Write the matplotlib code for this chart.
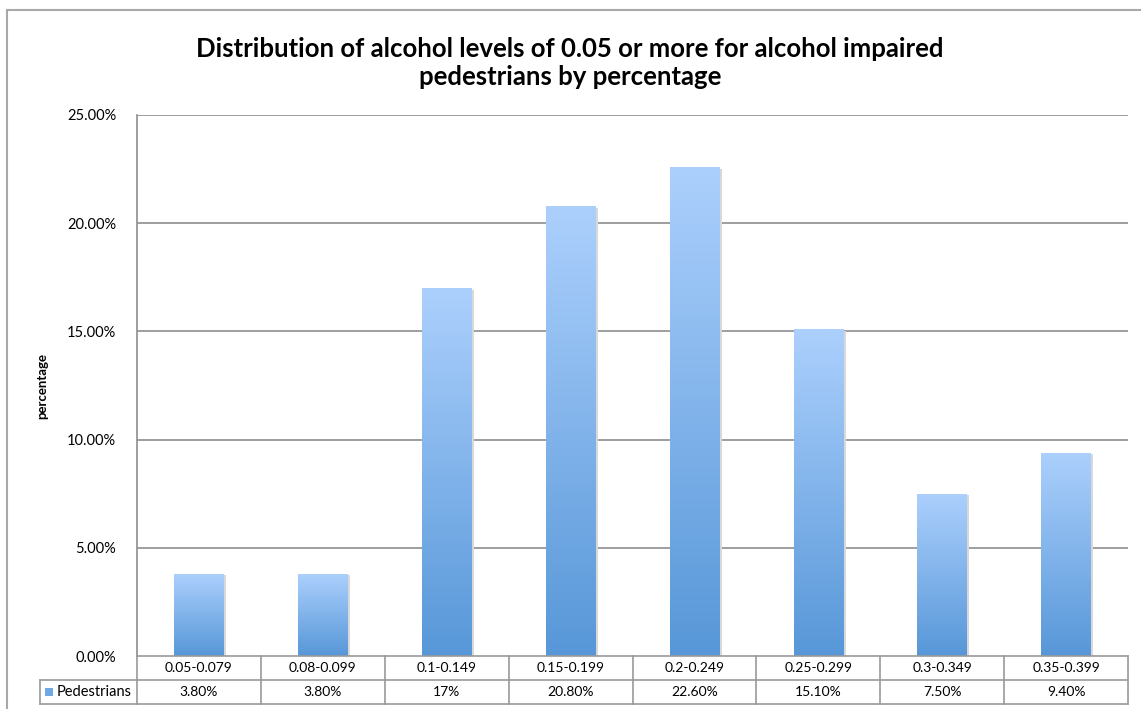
import numpy as np
import matplotlib.pyplot as plt
from matplotlib.colors import LinearSegmentedColormap
from matplotlib.lines import Line2D
from matplotlib.patches import Rectangle

# alcohol level ranges and share of impaired pedestrians (%)
categories = ['0.05-0.079', '0.08-0.099', '0.1-0.149', '0.15-0.199',
              '0.2-0.249', '0.25-0.299', '0.3-0.349', '0.35-0.399']
values = [3.8, 3.8, 17, 20.8, 22.6, 15.1, 7.5, 9.4]
value_labels = ['3.80%', '3.80%', '17%', '20.80%', '22.60%', '15.10%', '7.50%', '9.40%']
yticks = [0, 5, 10, 15, 20, 25]
series_name = 'Pedestrians'

plt.rcParams['font.family'] = ['Lato', 'DejaVu Sans']

W, H = 1141, 709
fig = plt.figure(figsize=(W / 100, H / 100), dpi=100)

# pixel helpers for the figure coordinate system
def fx(px):
    return px / W

def fy(py):
    return 1 - py / H

left, right, top, bottom = 137, 1128, 115, 656
ax = fig.add_axes([fx(left), fy(bottom), fx(right) - fx(left), fy(top) - fy(bottom)])

grid_col = '#8e8e8e'
cmap = LinearSegmentedColormap.from_list('bar', ['#5797d8', '#acd0fd'])
grad = np.linspace(0, 1, 256).reshape(-1, 1)

n = len(values)
x = np.arange(n)
bw = 0.4

for yv in yticks[1:]:
    ax.axhline(yv, color=grid_col, lw=1.2, zorder=1)

for xi, v in zip(x, values):
    # soft drop shadow
    ax.add_patch(Rectangle((xi - bw / 2 + 0.02, 0), bw, v - 0.08,
                           facecolor='#d8d8d8', edgecolor='none', zorder=2))
    rect = Rectangle((xi - bw / 2, 0), bw, v, facecolor='none', edgecolor='none', zorder=3)
    ax.add_patch(rect)
    im = ax.imshow(grad, cmap=cmap, origin='lower', aspect='auto',
                   extent=[xi - bw / 2, xi + bw / 2, 0, v], zorder=3)
    im.set_clip_path(rect)

ax.set_xlim(-0.5, n - 0.5)
ax.set_ylim(0, 25)
ax.set_xticks([])
ax.set_yticks(yticks)
ax.set_yticklabels(['%.2f%%' % t for t in yticks], fontsize=10.5)
ax.tick_params(axis='y', length=0, pad=15)
for s in ['top', 'right', 'bottom']:
    ax.spines[s].set_visible(False)
ax.spines['left'].set_color(grid_col)
ax.spines['left'].set_linewidth(1.2)

# outer chart frame
frame_col = '#a8a8a8'
fig.add_artist(Line2D([fx(7), fx(W)], [fy(10), fy(10)], color=frame_col, lw=1.5))
fig.add_artist(Line2D([fx(7), fx(7)], [fy(10), fy(H)], color=frame_col, lw=1.5))

# data table under the plot
r0, r1, r2 = 656, 680, 704
leg_left = 40
colw = (right - left) / n
tcol = '#9a9a9a'

def hline(y, x0, x1):
    fig.add_artist(Line2D([fx(x0), fx(x1)], [fy(y), fy(y)], color=tcol, lw=1.2))

def vline(xp, y0, y1):
    fig.add_artist(Line2D([fx(xp), fx(xp)], [fy(y0), fy(y1)], color=tcol, lw=1.2))

hline(r0, left, right)
hline(r1, leg_left, right)
hline(r2, leg_left, right)
vline(leg_left, r1, r2)
for i in range(n + 1):
    vline(left + i * colw, r0, r2)

for i, (c, lab) in enumerate(zip(categories, value_labels)):
    cx = left + (i + 0.5) * colw
    fig.text(fx(cx), fy((r0 + r1) / 2), c, ha='center', va='center', fontsize=10)
    fig.text(fx(cx), fy((r1 + r2) / 2), lab, ha='center', va='center', fontsize=10)

# legend key inside the table
fig.add_artist(Rectangle((fx(45), fy(696)), fx(8), 8 / H, facecolor='#6fa8e6',
                         edgecolor='none', transform=fig.transFigure))
fig.text(fx(57), fy((r1 + r2) / 2), series_name, ha='left', va='center', fontsize=10.5)

fig.text(fx(42), fy((top + bottom) / 2), 'percentage', rotation=90, ha='center',
         va='center', fontsize=9.5, fontweight='bold')

fig.text(fx(570), fy(63), 'Distribution of alcohol levels of 0.05 or more for alcohol impaired\n'
         'pedestrians by percentage', ha='center', va='center', fontsize=18.5,
         fontweight='bold', linespacing=1.2)

fig.savefig('out.png', dpi=100)
